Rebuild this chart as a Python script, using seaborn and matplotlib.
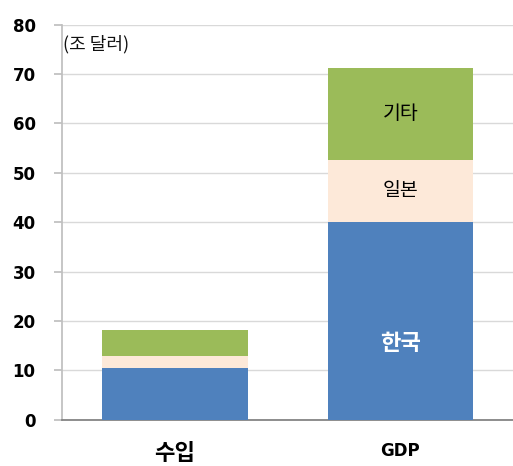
import matplotlib
matplotlib.use("Agg")
import matplotlib.pyplot as plt
import seaborn as sns
import pandas as pd

categories = ["수입", "GDP"]
series_names = ["한국", "일본", "기타"]
korea = [10.6, 40.0]
japan = [2.3, 12.7]
others = [5.3, 18.6]
colors = ["#4f81bd", "#fde9d9", "#9bbb59"]

sns.set_theme(style="white")
plt.rcParams["font.family"] = ["Noto Sans CJK KR", "DejaVu Sans"]

df = pd.DataFrame({"cat": categories, "한국": korea, "일본": japan, "기타": others})

fig = plt.figure(figsize=(5.13, 4.66), dpi=100)
ax = fig.add_axes([0.121, 0.099, 0.879, 0.848])

bottom = [0.0, 0.0]
for name, col in zip(series_names, colors):
    sns.barplot(x=df["cat"], y=df[name], bottom=bottom, color=col, width=0.645,
                saturation=1, linewidth=0, ax=ax, zorder=3)
    bottom = [b + v for b, v in zip(bottom, df[name])]

# segment labels on GDP bar
ax.text(1, 15.5, "한국", ha="center", va="center", color="white",
        fontsize=16, fontweight="bold", zorder=4)
ax.text(1, korea[1] + japan[1] / 2, "일본", ha="center", va="center",
        color="black", fontsize=14, zorder=4)
ax.text(1, korea[1] + japan[1] + others[1] / 2, "기타", ha="center", va="center",
        color="black", fontsize=14, zorder=4)

ax.set_ylim(0, 80)
ax.set_xlim(-0.5, 1.5)
ax.set_yticks(range(0, 81, 10))
ax.yaxis.grid(True, color="#d9d9d9", linewidth=1, zorder=0)
ax.set_xlabel("")
ax.set_ylabel("")
ax.text(0.003, 0.975, "(조 달러)", transform=ax.transAxes, ha="left", va="top",
        fontsize=13, color="#111111")

for s in ["top", "right"]:
    ax.spines[s].set_visible(False)
ax.spines["left"].set_color("#bfbfbf")
ax.spines["bottom"].set_color("#808080")
ax.tick_params(axis="y", left=True, length=6, color="#bfbfbf", pad=13,
               labelsize=12, labelcolor="black")
ax.tick_params(axis="x", bottom=False, pad=10, labelcolor="black")
for lbl in ax.get_yticklabels():
    lbl.set_fontweight("bold")
    lbl.set_family("DejaVu Sans")
xl = ax.get_xticklabels()
xl[0].set_fontsize(16)
xl[0].set_fontweight("bold")
xl[1].set_fontsize(12)
xl[1].set_fontweight("bold")
xl[1].set_family("DejaVu Sans")

fig.savefig("out.png", dpi=100)
